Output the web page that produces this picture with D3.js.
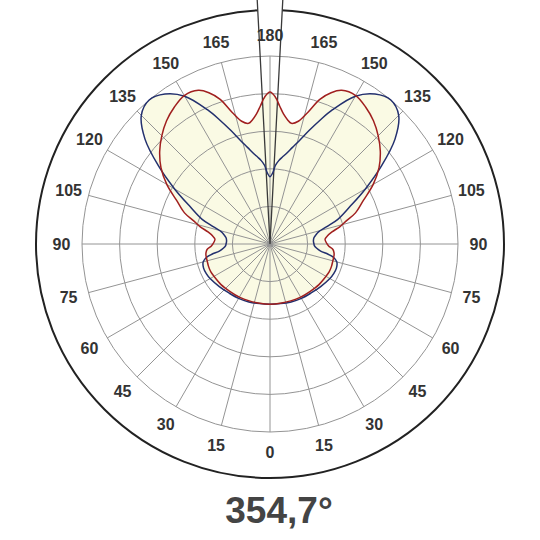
<!DOCTYPE html>
<html><head><meta charset="utf-8">
<script src="https://cdn.jsdelivr.net/npm/d3@7"></script>
<style>body{margin:0;background:#fff}svg{display:block}</style>
</head><body>
<svg id="c" width="540" height="540"></svg>
<script>
// Polar angles (gamma, degrees; 0 = down, 180 = up), mirrored left/right
const gammas = [0,10,20,30,40,50,60,65,70,75,78,80,82,85,88,90,92,95,98,101,104,107,110,115,120,125,130,135,140,145,150,155,158,161,164,167,170,172,174,176,178,180];
// C0-C180 plane (blue)
const blueValues = [160,161,164,167,170,176,184,187,188,184,173,157,136,124,118,117,116,116,118,124,133,158,192,234,293,362,434,484,500,487,454,394,355,319,287,263,243,233,223,210,188,179];
// C90-C270 plane (red)
const redValues = [160,160,161,163,165,169,172,174,174,173,173,173,172,168,156,152,149,147,154,168,192,213,242,274,317,354,383,407,428,444,456,451,434,407,364,335,326,334,347,368,392,404];
// narrow beam (dark)
const spikeGammas = [0,175,177,180];
const spikeValues = [0,0,720,720];
const ringValues = [100,200,300,400,500];
const labelAngles = [0,15,30,45,60,75,90,105,120,135,150,165,180];
const title = "354,7°";

const svg = d3.select("#c");
const cx = 270, cy = 244;
const r = d3.scaleLinear().domain([0,500]).range([0,188]);
const rad = d => d*Math.PI/180;
const g = svg.append("g").attr("transform",`translate(${cx},${cy})`);

function fullPoints(gs, vs){
  const pts = [];
  for(let i=gs.length-1;i>=0;i--) pts.push([Math.PI - rad(gs[i]), vs[i]]);
  for(let i=1;i<gs.length-1;i++) pts.push([Math.PI + rad(gs[i]), vs[i]]);
  return pts;
}
const smooth = d3.lineRadial().angle(d=>d[0]).radius(d=>r(d[1])).curve(d3.curveCatmullRomClosed.alpha(0.5));
const sharp = d3.lineRadial().angle(d=>d[0]).radius(d=>r(d[1])).curve(d3.curveLinearClosed);

g.append("circle").attr("r",234).attr("fill","none").attr("stroke","#222").attr("stroke-width",2);

const spikePts = fullPoints(spikeGammas, spikeValues);
const bluePts = fullPoints(gammas, blueValues);
const redPts = fullPoints(gammas, redValues);

g.append("path").attr("d",sharp(spikePts)).attr("fill","#fff");
g.append("path").attr("d",smooth(bluePts)).attr("fill","#fafae4");
g.append("path").attr("d",smooth(redPts)).attr("fill","#fafae4");

const grid = g.append("g").attr("stroke","#949494").attr("stroke-width",1).attr("fill","none");
grid.selectAll("circle").data(ringValues).join("circle").attr("r",d=>r(d));
const spokes = d3.range(0,360,15);
grid.selectAll("line").data(spokes).join("line")
  .attr("x1",0).attr("y1",0)
  .attr("x2",d=>r(500)*Math.sin(rad(d)))
  .attr("y2",d=>-r(500)*Math.cos(rad(d)));

g.append("path").attr("d",sharp(spikePts)).attr("fill","none").attr("stroke","#3a3a3a").attr("stroke-width",1.3);
g.append("path").attr("d",smooth(bluePts)).attr("fill","none").attr("stroke","#23306e").attr("stroke-width",1.5);
g.append("path").attr("d",smooth(redPts)).attr("fill","none").attr("stroke","#a01f1f").attr("stroke-width",1.5);

const lab = [];
labelAngles.forEach(a=>{
  lab.push({a:a, ang:Math.PI + rad(a)});
  if(a!==0 && a!==180) lab.push({a:a, ang:Math.PI - rad(a)});
});
const lr = 208.5;
g.selectAll("text.lab").data(lab).join("text").attr("class","lab")
  .attr("x",d=>lr*Math.sin(d.ang))
  .attr("y",d=>-lr*Math.cos(d.ang))
  .attr("text-anchor","middle").attr("dominant-baseline","central")
  .attr("font-family","'Liberation Sans', Arial, sans-serif").attr("font-weight","bold")
  .attr("font-size",16).attr("fill","#333")
  .text(d=>d.a);

svg.append("text").attr("x",279).attr("y",523).attr("text-anchor","middle")
  .attr("font-family","'Liberation Sans', Arial, sans-serif").attr("font-weight","bold")
  .attr("font-size",37).attr("fill","#444").text(title);
</script>
</body></html>
